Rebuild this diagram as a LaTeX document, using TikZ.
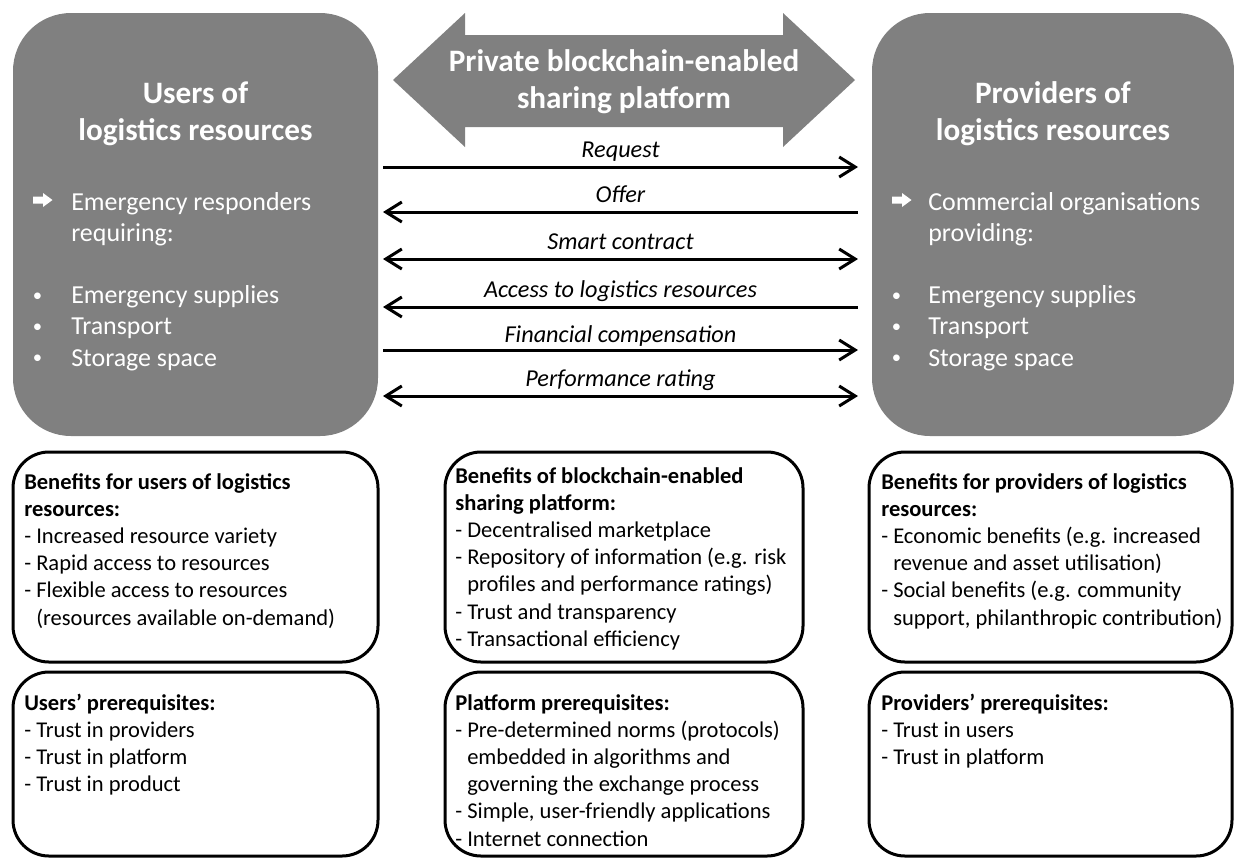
\documentclass[tikz,border=0pt]{standalone}
\usepackage{fontspec}
\setmainfont{Carlito}
\usetikzlibrary{arrows.meta}
\definecolor{boxgray}{RGB}{128,128,128}
\newcommand{\mytb}[1]{\parbox[t]{330pt}{\raggedright #1}}
\newcommand{\mytc}[1]{\parbox[t]{330pt}{\centering #1}}
\newcommand{\ind}{\hphantom{-\ }}
\tikzset{
  graybox/.style={rectangle, fill=boxgray, draw=none, rounded corners=43.5pt, outer sep=0pt, inner sep=0pt},
  infobox/.style={rectangle, draw=black, line width=2.25pt, rounded corners=27pt, outer sep=0pt, inner sep=0pt},
  titletxt/.style={text=white, font=\bfseries\fontsize{23.4pt}{27.75pt}\selectfont, inner sep=0pt, anchor=base},
  bodytxt/.style={text=white, font=\fontsize{19.45pt}{23.4pt}\selectfont, inner sep=0pt, anchor=base west},
  bultxt/.style={text=white, font=\fontsize{14pt}{23.4pt}\selectfont, inner sep=0pt, anchor=base west},
  infotxt/.style={text=black, font=\fontsize{16.9pt}{20.4pt}\selectfont, inner sep=0pt, anchor=base west},
  lab/.style={font=\itshape\fontsize{18.2pt}{21pt}\selectfont, inner sep=0pt, anchor=base, yshift=7.3pt},
  link/.style={line width=2.25pt, draw=black},
  barb/.tip={Straight Barb[length=12pt,width=15pt]},
  whitearrow/.style={fill=white, draw=none}
}
\begin{document}
\begin{tikzpicture}[x=0.75pt,y=-0.75pt]
\useasboundingbox (0,0) rectangle (1234,858);

% gray boxes
\node[graybox, minimum width=273.75pt, minimum height=317.25pt] (users) at (195.5,224.5) {};
\node[graybox, minimum width=271.5pt, minimum height=317.25pt] (providers) at (1053,224.5) {};

% platform double arrow
\fill[boxgray] (393,80) -- (465,13) -- (465,35) -- (783,35) -- (783,13) -- (855,80)
  -- (783,147) -- (783,127) -- (465,127) -- (465,147) -- cycle;
\node[titletxt] (platform) at (624,71.7) {\mytc{Private blockchain-enabled\\sharing platform}};

% titles
\node[titletxt] (userstitle) at (195.5,103) {\mytc{Users of\\logistics resources}};
\node[titletxt] (provtitle) at (1053,103) {\mytc{Providers of\\logistics resources}};

% users contents
\fill[whitearrow] (33,196.5) -- (43,196.5) -- (43,193) -- (52.5,200) -- (43,207) -- (43,203.5) -- (33,203.5) -- cycle;
\node[bodytxt] (userslist) at (71,210) {\mytb{Emergency responders\\requiring:\\[23.4pt]Emergency supplies\\Transport\\Storage space}};
\node[bultxt] (usersbul) at (32.5,301.5) {\mytb{•\\•\\•}};

% providers contents
\fill[whitearrow] (892,196.5) -- (902,196.5) -- (902,193) -- (911.5,200) -- (902,207) -- (902,203.5) -- (892,203.5) -- cycle;
\node[bodytxt] (provlist) at (928,210) {\mytb{Commercial organisations\\providing:\\[23.4pt]Emergency supplies\\Transport\\Storage space}};
\node[bultxt] (provbul) at (891.5,301.5) {\mytb{•\\•\\•}};

% flows
\coordinate (l1) at (383,167); \coordinate (r1) at (858,167);
\coordinate (l2) at (383,212); \coordinate (r2) at (858,212);
\coordinate (l3) at (383,259); \coordinate (r3) at (858,259);
\coordinate (l4) at (383,307); \coordinate (r4) at (858,307);
\coordinate (l5) at (383,350); \coordinate (r5) at (858,350);
\coordinate (l6) at (383,396); \coordinate (r6) at (858,396);
\draw[link,-barb] (l1) -- node[lab]{Request} (r1);
\draw[link,barb-] (l2) -- node[lab]{Offer} (r2);
\draw[link,barb-barb] (l3) -- node[lab]{Smart contract} (r3);
\draw[link,barb-] (l4) -- node[lab]{Access to logistics resources} (r4);
\draw[link,-barb] (l5) -- node[lab,yshift=-1.5pt]{Financial compensation} (r5);
\draw[link,barb-barb] (l6) -- node[lab]{Performance rating} (r6);

% info boxes
\node[infobox, minimum width=273.75pt, minimum height=157.5pt] (ub) at (195.5,557) {};
\node[infobox, minimum width=268.5pt, minimum height=157.5pt] (pb) at (624,557) {};
\node[infobox, minimum width=272.25pt, minimum height=157.5pt] (vb) at (1050.5,557) {};
\node[infobox, minimum width=273.75pt, minimum height=138pt] (up) at (195.5,764) {};
\node[infobox, minimum width=268.5pt, minimum height=138pt] (pp) at (624,764) {};
\node[infobox, minimum width=272.25pt, minimum height=138pt] (vp) at (1050.5,764) {};

\node[infotxt] (ubt) at (24,489) {\mytb{\textbf{Benefits for users of logistics}\\\textbf{resources:}\\- Increased resource variety\\- Rapid access to resources\\- Flexible access to resources\\\ind(resources available on-demand)}};
\node[infotxt] (pbt) at (455,483) {\mytb{\textbf{Benefits of blockchain-enabled}\\\textbf{sharing platform:}\\- Decentralised marketplace\\- Repository of information (e.g. risk\\\ind profiles and performance ratings)\\- Trust and transparency\\- Transactional efficiency}};
\node[infotxt] (vbt) at (881,489) {\mytb{\textbf{Benefits for providers of logistics}\\\textbf{resources:}\\- Economic benefits (e.g. increased\\\ind revenue and asset utilisation)\\- Social benefits (e.g. community\\\ind support, philanthropic contribution)}};

\node[infotxt] (upt) at (24,710) {\mytb{\textbf{Users’ prerequisites:}\\- Trust in providers\\- Trust in platform\\- Trust in product}};
\node[infotxt] (ppt) at (455,710) {\mytb{\textbf{Platform prerequisites:}\\- Pre-determined norms (protocols)\\\ind embedded in algorithms and\\\ind governing the exchange process\\- Simple, user-friendly applications\\- Internet connection}};
\node[infotxt] (vpt) at (881,710) {\mytb{\textbf{Providers’ prerequisites:}\\- Trust in users\\- Trust in platform}};
\end{tikzpicture}
\end{document}
